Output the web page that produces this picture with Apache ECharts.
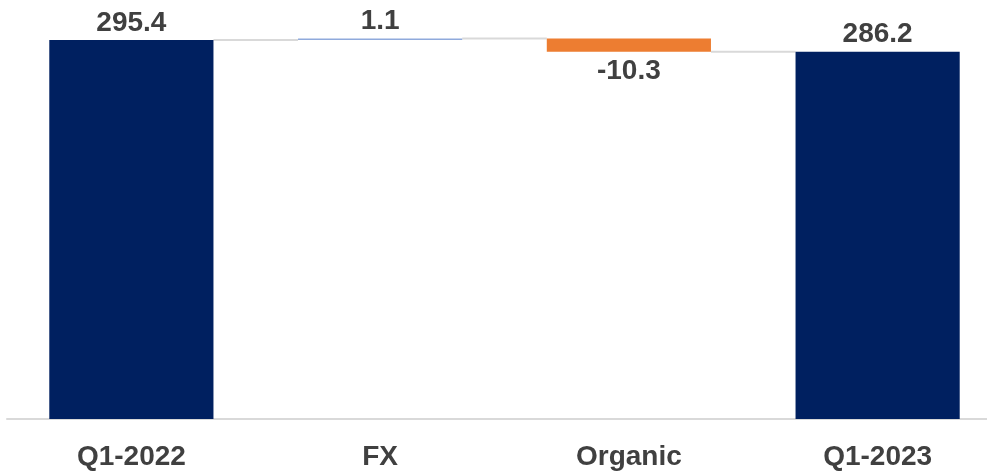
<!DOCTYPE html>
<html>
<head>
<meta charset="utf-8">
<script src="https://cdn.jsdelivr.net/npm/echarts@6/dist/echarts.min.js"></script>
<style>
  html, body { margin: 0; padding: 0; background: #fff; overflow: hidden; }
  /* plot runs a bit past the right edge of the window, so the canvas does too */
  #chart { width: 1002px; height: 472px; }
</style>
</head>
<body>
<div id="chart"></div>
<script>
// waterfall data
var categories = ['Q1-2022', 'FX', 'Organic', 'Q1-2023']
var values = [295.4, 1.1, -10.3, 286.2]
var isTotal = [true, false, false, true]

var navy = '#002060'
var up = '#8FAADC'
var down = '#ED7D31'

// build invisible base + visible part of each bar
var base = []
var body = []
var levels = [] // running level after each bar, used for connectors
var running = 0
for (var i = 0; i < values.length; i++) {
  var v = values[i]
  var color, labelPos
  if (isTotal[i]) {
    base.push(0)
    body.push(v)
    running = v
    color = navy
    labelPos = 'top'
  } else if (v >= 0) {
    base.push(running)
    body.push(v)
    running = running + v
    color = up
    labelPos = 'top'
  } else {
    base.push(running + v)
    body.push(-v)
    running = running + v
    color = down
    labelPos = 'bottom'
  }
  levels.push(running)
  body[i] = {
    value: body[i],
    itemStyle: { color: color },
    label: { position: labelPos, distance: labelPos === 'top' ? 3 : 6 }
  }
}

var connectors = []
for (var j = 0; j < levels.length - 1; j++) {
  connectors.push([j, levels[j]])
}

var chart = echarts.init(document.getElementById('chart'), null, { renderer: 'canvas' })
chart.setOption({
  animation: false,
  grid: { left: 7, right: 0, top: 34, bottom: 53, containLabel: false },
  xAxis: {
    type: 'category',
    data: categories,
    axisLine: { lineStyle: { color: '#D9D9D9', width: 2 } },
    axisTick: { show: false },
    axisLabel: {
      color: '#404040',
      fontFamily: 'Liberation Sans, Arial, sans-serif',
      fontWeight: 'bold',
      fontSize: 28,
      margin: 24
    }
  },
  yAxis: {
    type: 'value',
    min: 0,
    max: 300,
    show: false,
    splitLine: { show: false }
  },
  series: [
    {
      type: 'bar',
      stack: 'wf',
      data: base,
      barWidth: '66%',
      itemStyle: { color: 'transparent' },
      emphasis: { disabled: true },
      silent: true
    },
    {
      type: 'bar',
      stack: 'wf',
      data: body,
      label: {
        show: true,
        color: '#404040',
        fontFamily: 'Liberation Sans, Arial, sans-serif',
        fontWeight: 'bold',
        fontSize: 28,
        formatter: function (p) {
          return values[p.dataIndex].toFixed(1)
        }
      }
    },
    {
      type: 'custom',
      data: connectors,
      silent: true,
      z: 1,
      renderItem: function (params, api) {
        var p = api.coord([api.value(0), api.value(1)])
        var band = api.size([1, 0])[0]
        var half = band * 0.66 / 2
        return {
          type: 'line',
          shape: { x1: p[0] + half, y1: p[1], x2: p[0] + band - half, y2: p[1] },
          style: { stroke: '#D9D9D9', lineWidth: 2 }
        }
      }
    }
  ]
})
</script>
</body>
</html>
